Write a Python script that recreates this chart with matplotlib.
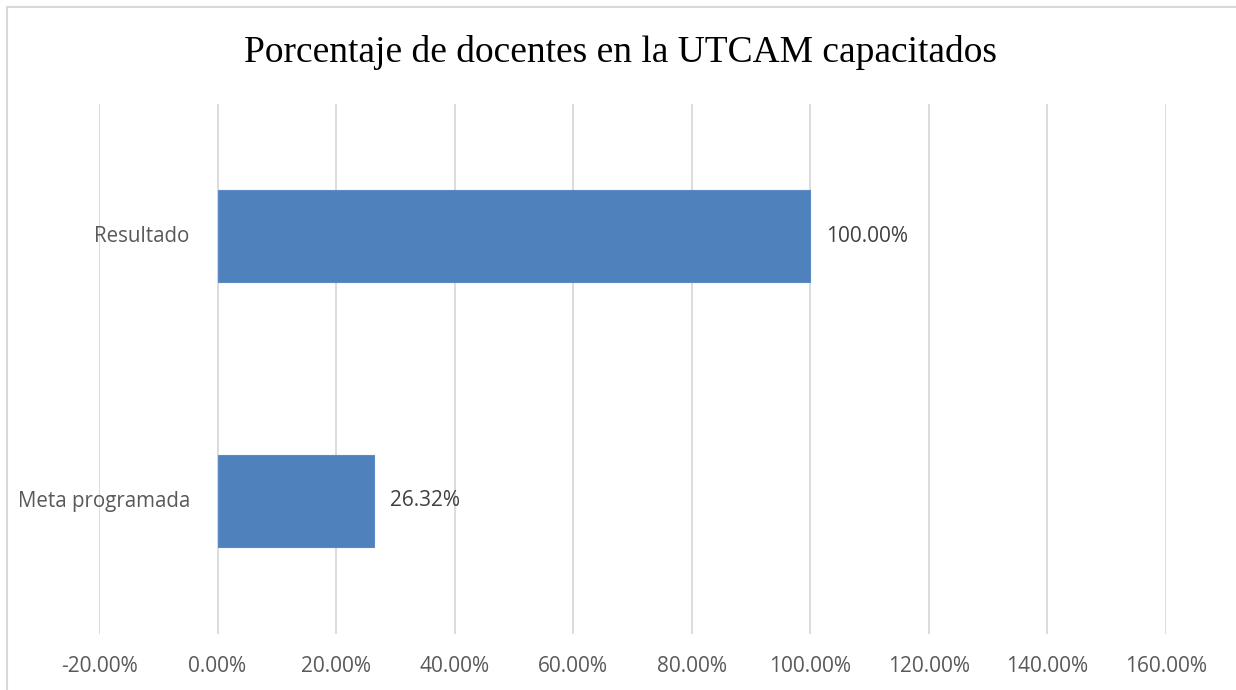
import matplotlib.pyplot as plt
from matplotlib.lines import Line2D

# datos
categorias = ['Meta programada', 'Resultado']
valores = [26.32, 100.00]
xticks = [-20, 0, 20, 40, 60, 80, 100, 120, 140, 160]

fig = plt.figure(figsize=(12.36, 6.9), dpi=100)
ax = fig.add_axes([99/1236, 1 - 633.5/690, (1166 - 99)/1236, 530/690])

ax.barh(range(len(categorias)), valores, height=0.35, color='#4f81bd',
        edgecolor='#5b8ac4', linewidth=0.8, zorder=2)

ax.set_xlim(-20, 160)
ax.set_ylim(-0.5, 1.5)
ax.set_xticks(xticks)
ax.set_xticklabels(['%.2f%%' % t for t in xticks], fontsize=15,
                   color='#595959', family='Open Sans')
ax.tick_params(axis='x', length=0, pad=16)
ax.set_yticks([])
ax.grid(axis='x', color='#d9d9d9', linewidth=1.3, zorder=0)
for s in ax.spines.values():
    s.set_visible(False)

# etiquetas de categorias (el eje vertical cruza en 0)
for i, c in enumerate(categorias):
    ax.annotate(c, (0, i), xytext=(-20, 0), textcoords='offset points',
                ha='right', va='center', fontsize=14.8, color='#595959',
                family='Open Sans')

# etiquetas de valores
for i, v in enumerate(valores):
    ax.annotate('%.2f%%' % v, (v, i), xytext=(11.5, 0), textcoords='offset points',
                ha='left', va='center', fontsize=15, color='#404040',
                family='Open Sans')

fig.text(0.5 + 3/1236, 1 - 52/690, 'Porcentaje de docentes en la UTCAM capacitados',
         ha='center', va='center', fontsize=27, family='Liberation Serif',
         color='black')

# marco del grafico
fig.add_artist(Line2D([7/1236, 1], [1 - 7/690, 1 - 7/690], color='#d9d9d9',
                      linewidth=1.5, transform=fig.transFigure))
fig.add_artist(Line2D([7/1236, 7/1236], [0, 1 - 7/690], color='#d9d9d9',
                      linewidth=1.5, transform=fig.transFigure))

fig.savefig('out.png', dpi=100)
